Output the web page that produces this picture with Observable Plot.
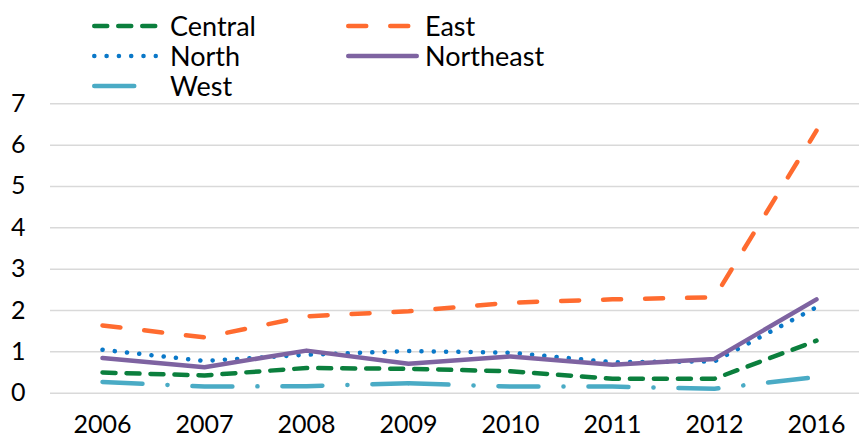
<!DOCTYPE html>
<html>
<head>
<meta charset="utf-8">
<script src="https://cdn.jsdelivr.net/npm/d3@7"></script>
<script src="https://cdn.jsdelivr.net/npm/@observablehq/plot@0.6"></script>
<style>
  html, body { margin: 0; padding: 0; background: #fff; }
  body { width: 859px; height: 438px; overflow: hidden; font-family: Lato, "Noto Sans", sans-serif; position: relative; }
  #legend { position: absolute; left: 0; top: 0; width: 859px; height: 100px; z-index: 2; }
  .sw { position: absolute; display: block; }
  .lab { position: absolute; font-size: 27px; line-height: 30px; height: 30px; color: #000; white-space: nowrap; }
  #chart { position: absolute; left: 0; top: 0; }
  #chart svg { overflow: visible; }
</style>
</head>
<body>
<div id="chart"></div>
<div id="legend"></div>
<script>
const years = ["2006", "2007", "2008", "2009", "2010", "2011", "2012", "2016"];
const central   = [0.50, 0.43, 0.61, 0.59, 0.53, 0.35, 0.35, 1.27];
const east      = [1.64, 1.35, 1.86, 1.98, 2.19, 2.27, 2.32, 6.35];
const north     = [1.05, 0.78, 0.93, 1.02, 0.98, 0.75, 0.77, 2.08];
const northeast = [0.85, 0.63, 1.03, 0.71, 0.89, 0.69, 0.83, 2.27];
const west      = [0.27, 0.16, 0.17, 0.24, 0.16, 0.16, 0.11, 0.39];
const yTicks = [0, 1, 2, 3, 4, 5, 6, 7];

const seriesNames = ["Central", "East", "North", "Northeast", "West"];
const seriesValues = [central, east, north, northeast, west];

const styles = {
  Central:   {color: "#0b7f3d", dash: "13,11"},
  East:      {color: "#ff6b2f", dash: "18,24"},
  North:     {color: "#0a78c8", dash: "0.1,12.2"},
  Northeast: {color: "#7e63a1", dash: null},
  West:      {color: "#4aabc5", dash: "40,25,0.1,24.9"}
};
// the dash pattern of a series restarts at these category indices (as in the original rendering)
const patternRestart = {West: [3]};

const legendPos = {
  Central:   {sx: 92,  cy: 25.7, w: 66, lx: 170},
  North:     {sx: 92,  cy: 55.7, w: 66, lx: 170},
  West:      {sx: 92,  cy: 85.7, w: 66, lx: 170},
  East:      {sx: 346, cy: 25.7, w: 73, lx: 425},
  Northeast: {sx: 346, cy: 55.7, w: 73, lx: 425}
};

// Legend
const legend = document.getElementById("legend");
for (const name of seriesNames) {
  const s = styles[name], p = legendPos[name];
  const sw = document.createElementNS("http://www.w3.org/2000/svg", "svg");
  sw.setAttribute("class", "sw");
  sw.setAttribute("width", p.w);
  sw.setAttribute("height", 10);
  sw.style.left = p.sx + "px";
  sw.style.top = (p.cy - 5) + "px";
  sw.innerHTML = `<line x1="2.25" x2="${p.w - 2.25}" y1="5" y2="5" stroke="${s.color}" stroke-width="4.5" stroke-linecap="round" ${s.dash ? `stroke-dasharray="${s.dash}"` : ""}/>`;
  legend.appendChild(sw);
  const lab = document.createElement("div");
  lab.className = "lab";
  lab.textContent = name;
  lab.style.left = p.lx + "px";
  lab.style.top = (p.cy - 15) + "px";
  legend.appendChild(lab);
}

// Data table
const rows = [];
seriesNames.forEach((name, i) => {
  years.forEach((yr, j) => rows.push({series: name, year: yr, idx: j, value: seriesValues[i][j]}));
});

const lineMarks = [];
for (const name of seriesNames) {
  const data = rows.filter(d => d.series === name);
  const cuts = [0, ...(patternRestart[name] || []), years.length - 1];
  for (let k = 0; k < cuts.length - 1; k++) {
    const part = data.filter(d => d.idx >= cuts[k] && d.idx <= cuts[k + 1]);
    lineMarks.push(Plot.line(part, {
      x: "year", y: "value",
      stroke: styles[name].color,
      strokeWidth: 4.5,
      strokeDasharray: styles[name].dash || undefined,
      strokeLinecap: "round",
      strokeLinejoin: "round"
    }));
  }
}

const chart = Plot.plot({
  width: 859,
  height: 438,
  marginTop: 103.3,
  marginBottom: 45.3,
  marginLeft: 50,
  marginRight: 0,
  style: {fontFamily: "Lato, 'Noto Sans', sans-serif", fontSize: "25px", color: "#000", background: "transparent", overflow: "visible"},
  x: {type: "point", domain: years, range: [101.7, 816.7], padding: 0},
  y: {domain: [0, 7]},
  marks: [
    Plot.ruleY(yTicks, {stroke: "#d9d9d9", strokeWidth: 1.5}),
    Plot.axisY({ticks: yTicks, tickSize: 0, tickPadding: 25, fontSize: 25, label: null, tickFormat: d => String(d)}),
    Plot.axisX({tickSize: 0, tickPadding: 22.5, fontSize: 25, label: null}),
    ...lineMarks
  ]
});
document.getElementById("chart").appendChild(chart);
</script>
</body>
</html>
